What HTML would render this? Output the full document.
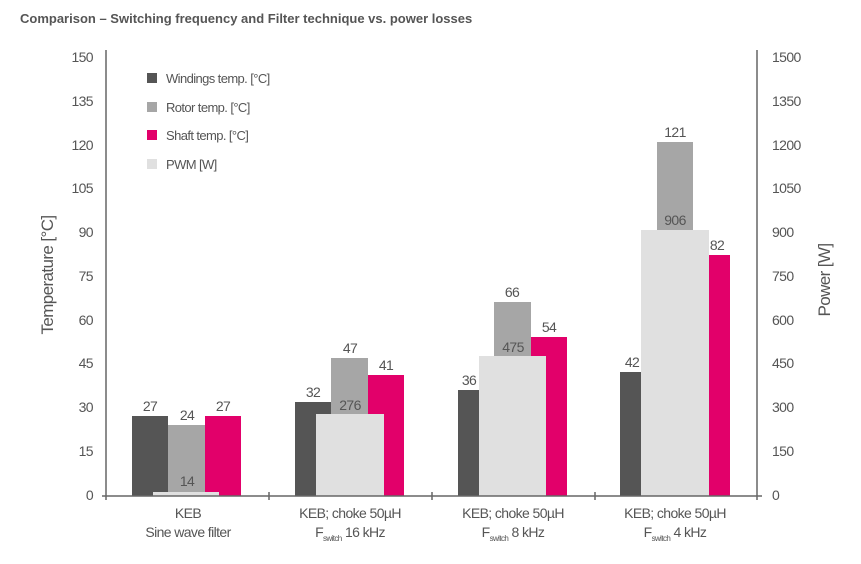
<!DOCTYPE html>
<html><head><meta charset="utf-8"><style>
body{margin:0;background:#fff;width:861px;height:559px;overflow:hidden}
svg text{font-family:"Liberation Sans Narrow","Liberation Sans",sans-serif;fill:#555;letter-spacing:-0.6px}
</style></head><body>
<svg width="861" height="559" xmlns="http://www.w3.org/2000/svg">
<text x="20" y="23" style="font-family:'Liberation Sans',sans-serif;font-weight:bold;font-size:13px;fill:#555;letter-spacing:0">Comparison – Switching frequency and Filter technique vs. power losses</text>
<g font-size="14" text-anchor="end">
<text x="93" y="62">150</text><text x="93" y="106">135</text><text x="93" y="150">120</text><text x="93" y="193">105</text><text x="93" y="237">90</text><text x="93" y="281">75</text><text x="93" y="325">60</text><text x="93" y="368">45</text><text x="93" y="412">30</text><text x="93" y="456">15</text><text x="93" y="500">0</text>
</g>
<g font-size="14">
<text x="772" y="62">1500</text><text x="772" y="106">1350</text><text x="772" y="150">1200</text><text x="772" y="193">1050</text><text x="772" y="237">900</text><text x="772" y="281">750</text><text x="772" y="325">600</text><text x="772" y="368">450</text><text x="772" y="412">300</text><text x="772" y="456">150</text><text x="772" y="500">0</text>
</g>
<text transform="translate(53,275) rotate(-90)" font-size="17" text-anchor="middle">Temperature [°C]</text>
<text transform="translate(830,280) rotate(-90)" font-size="17" text-anchor="middle">Power [W]</text>
<rect x="147" y="73" width="10" height="10" fill="#555"/><text x="166" y="83" font-size="13">Windings temp. [°C]</text>
<rect x="147" y="102" width="10" height="10" fill="#a6a6a6"/><text x="166" y="112" font-size="13">Rotor temp. [°C]</text>
<rect x="147" y="130" width="10" height="10" fill="#e2006a"/><text x="166" y="140" font-size="13">Shaft temp. [°C]</text>
<rect x="147" y="159" width="10" height="10" fill="#e0e0e0"/><text x="166" y="169" font-size="13">PWM [W]</text>
<rect x="132" y="416" width="36" height="80" fill="#555"/>
<rect x="168" y="425" width="37" height="71" fill="#a6a6a6"/>
<rect x="205" y="416" width="36" height="80" fill="#e2006a"/>
<rect x="153" y="492" width="66" height="4" fill="#e0e0e0"/>
<rect x="295" y="402" width="36" height="94" fill="#555"/>
<rect x="331" y="358" width="37" height="138" fill="#a6a6a6"/>
<rect x="368" y="375" width="36" height="121" fill="#e2006a"/>
<rect x="316" y="414" width="68" height="82" fill="#e0e0e0"/>
<rect x="458" y="390" width="22" height="106" fill="#555"/>
<rect x="494" y="302" width="37" height="194" fill="#a6a6a6"/>
<rect x="531" y="337" width="36" height="159" fill="#e2006a"/>
<rect x="479" y="356" width="67" height="140" fill="#e0e0e0"/>
<rect x="620" y="372" width="22" height="124" fill="#555"/>
<rect x="657" y="142" width="36" height="354" fill="#a6a6a6"/>
<rect x="709" y="255" width="21" height="241" fill="#e2006a"/>
<rect x="641" y="230" width="68" height="266" fill="#e0e0e0"/>
<g font-size="14" text-anchor="middle">
<text x="150" y="411">27</text><text x="187" y="420">24</text><text x="223" y="411">27</text><text x="187" y="486">14</text>
<text x="313" y="397">32</text><text x="350" y="353">47</text><text x="386" y="370">41</text><text x="350" y="410">276</text>
<text x="469" y="385">36</text><text x="512" y="297">66</text><text x="549" y="332">54</text><text x="513" y="352">475</text>
<text x="632" y="367">42</text><text x="675" y="137">121</text><text x="717" y="250">82</text><text x="675" y="225">906</text>
</g>
<g stroke="#666" stroke-width="1.5" fill="none">
<line x1="106" y1="50" x2="106" y2="500"/>
<line x1="757" y1="50" x2="757" y2="500"/>
<line x1="102" y1="496" x2="762" y2="496"/>
<line x1="269" y1="492" x2="269" y2="500"/><line x1="432" y1="492" x2="432" y2="500"/><line x1="595" y1="492" x2="595" y2="500"/>
</g>
<g font-size="14" text-anchor="middle">
<text x="188" y="518">KEB</text><text x="188" y="537">Sine wave filter</text>
<text x="350" y="518">KEB; choke 50µH</text><text x="350" y="537">F<tspan font-size="8" dy="4">switch</tspan><tspan dy="-4"> 16 kHz</tspan></text>
<text x="513" y="518">KEB; choke 50µH</text><text x="513" y="537">F<tspan font-size="8" dy="4">switch</tspan><tspan dy="-4"> 8 kHz</tspan></text>
<text x="675" y="518">KEB; choke 50µH</text><text x="675" y="537">F<tspan font-size="8" dy="4">switch</tspan><tspan dy="-4"> 4 kHz</tspan></text>
</g>
</svg>
</body></html>
